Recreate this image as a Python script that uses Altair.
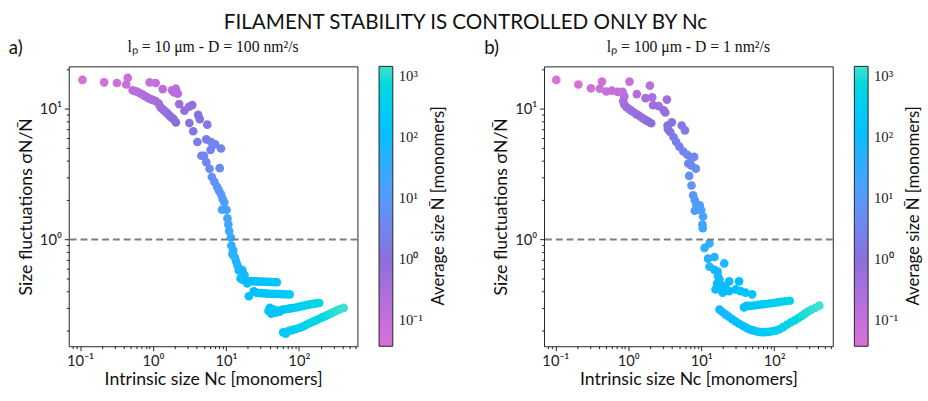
import altair as alt
import pandas as pd

# ---------------- data ----------------
# panel a: l_p = 10 um, D = 100 nm^2/s
nc_a = [0.108, 0.214, 0.321, 0.451, 0.429, 0.90, 1.09, 1.36, 1.82, 2.06, 2.19, 1.95,
        0.526, 0.57, 0.615, 0.665, 0.718, 0.76, 0.813, 0.87, 0.931, 1.01, 1.09, 1.20, 1.27, 1.34,
        1.41, 1.48, 1.56, 1.65, 1.73, 1.82, 1.92, 2.06,
        2.29, 2.70, 3.12, 3.45, 3.15, 4.16, 4.38, 5.55, 3.56, 4.07, 5.38, 6.28, 7.11, 8.57, 6.17,
        4.61, 5.01, 5.38, 5.97, 8.23, 6.42, 6.97, 7.57, 8.0, 8.57, 9.0, 9.5, 10.2, 8.83, 10.5, 10.8,
        11.1, 11.7, 11.9, 12.6, 13.2, 13.8, 14.4, 16.8, 18.0, 15.9, 12.3, 15.0, 19.6, 20.6, 24.1, 17.0,
        21.7, 24, 26.5, 29, 32, 35, 38.5, 42, 46, 50,
        26.7, 30, 33.5, 37.5, 42, 47, 53, 59, 66, 75,
        38.4, 40, 42, 45, 48, 52, 55, 60, 66, 73, 80, 88, 97, 107, 118, 130, 143, 158, 173, 190,
        61, 66, 70, 75, 83, 92, 102, 113, 125, 139, 155, 172, 190, 212, 235, 259, 285, 310, 336, 372, 412]
sig_a = [16.7, 16.0, 15.8, 17.3, 15.4, 16.0, 15.8, 14.2, 13.9, 14.3, 13.1, 13.4,
         13.9, 13.7, 13.5, 13.2, 12.9, 12.6, 12.4, 12.1, 11.9, 11.7, 11.5, 11.0, 10.3, 10.0,
         9.8, 9.55, 9.3, 9.0, 8.75, 8.55, 8.36, 7.89,
         10.9, 9.7, 10.4, 10.7, 7.8, 9.0, 8.36, 7.58, 6.75, 5.58, 5.85, 5.58, 5.36, 4.98, 4.86,
         4.38, 4.38, 3.91, 3.48, 3.52, 3.01, 2.76, 2.53, 2.38, 2.22, 2.05, 1.93, 1.69, 1.69, 1.45, 1.30,
         1.16, 1.035, 0.897, 0.822, 0.732, 0.68, 0.634, 0.582, 0.533, 0.503, 0.77, 0.58, 0.461, 0.367, 0.40, 0.49,
         0.48, 0.478, 0.477, 0.476, 0.475, 0.474, 0.473, 0.472, 0.471, 0.47,
         0.39, 0.388, 0.386, 0.385, 0.384, 0.383, 0.382, 0.381, 0.38, 0.38,
         0.283, 0.300, 0.270, 0.290, 0.275, 0.285, 0.280, 0.290, 0.292, 0.295, 0.298, 0.300, 0.303, 0.307,
         0.311, 0.315, 0.318, 0.321, 0.324, 0.326,
         0.194, 0.190, 0.197, 0.200, 0.203, 0.206, 0.210, 0.215, 0.221, 0.228, 0.234, 0.240, 0.247, 0.254,
         0.260, 0.267, 0.274, 0.280, 0.287, 0.293, 0.299]
nbar_a = [0.04, 0.06, 0.07, 0.07, 0.09, 0.09, 0.10, 0.15, 0.15, 0.14, 0.2, 0.16,
          0.12, 0.13, 0.15, 0.17, 0.19, 0.21, 0.23, 0.26, 0.29, 0.32, 0.36, 0.42, 0.48, 0.52,
          0.57, 0.62, 0.68, 0.74, 0.8, 0.86, 0.92, 1.0,
          0.5, 0.7, 0.7, 0.7, 1.2, 1.1, 1.2, 1.5, 1.6, 2.2, 2.2, 2.5, 2.8, 3.2, 3.0,
          3.0, 3.2, 3.8, 4.5, 5, 6, 7, 8, 9, 10, 12, 13, 16, 14, 20, 24,
          28, 33, 40, 45, 52, 58, 64, 72, 80, 85, 48, 70, 95, 110, 115, 88,
          110, 120, 130, 140, 150, 160, 170, 180, 190, 200,
          130, 140, 150, 165, 180, 195, 210, 225, 245, 270,
          150, 150, 160, 165, 175, 185, 190, 200, 220, 240, 260, 290, 320, 350, 390, 430, 480, 530, 590, 650,
          200, 220, 235, 250, 280, 310, 345, 385, 425, 470, 525, 585, 650, 720, 800, 880, 970, 1050, 1140, 1270, 1400]

# panel b: l_p = 100 um, D = 1 nm^2/s
nc_b = [0.103, 0.207, 0.308, 0.436, 0.407, 0.50, 0.596, 0.717, 0.838, 0.883, 1.04, 1.31, 1.98, 1.73,
        2.13, 2.19, 2.62, 3.06, 3.39, 3.22,
        0.85, 0.883, 0.95, 1.03, 1.1, 1.2, 1.3, 1.41, 1.52, 1.64, 1.75, 1.86, 2.06,
        3.46, 3.96, 5.4, 5.99, 3.76, 3.5, 4.17, 4.53, 5.02, 5.69, 6.44, 7.36, 8.0, 8.43, 6.64, 7.3,
        6.85, 7.36, 7.75, 8.17, 8.59, 9.54, 10.0, 8.17, 10.6, 10.4, 10.5,
        13.0, 11.1, 12.4, 15.2, 20.7, 13.0, 15.2, 16.8, 17.8, 15.7, 18.7, 24.2, 33.0, 19.7, 24.2, 29.7,
        34.7, 40.5, 49.9, 16.5, 19, 21.5, 17,
        38.6, 42, 47, 53, 60, 68, 77, 87, 98, 111, 125, 142, 164,
        17.8, 19.5, 21.5, 23.8, 26.5, 29.7, 33, 37, 41.5, 45.5, 49.9, 55, 61, 68, 75.4,
        84, 94, 105, 118, 133, 150, 170, 191, 215, 240, 265, 290, 325, 370, 416]
sig_b = [16.7, 15.4, 14.4, 16.2, 14.3, 13.6, 13.8, 13.5, 13.5, 12.5, 16.2, 13.0, 15.1, 12.1,
         12.3, 10.7, 10.5, 9.78, 11.8, 9.4,
         11.5, 10.8, 10.3, 9.95, 9.7, 9.4, 9.1, 8.87, 8.6, 8.38, 8.2, 8.04, 7.77,
         7.47, 7.9, 7.47, 6.85, 6.66, 7.0, 6.1, 5.61, 5.14, 4.72, 4.46, 4.21, 4.29, 3.49, 3.82, 3.7,
         3.07, 2.59, 2.18, 2.0, 1.83, 1.83, 1.68, 1.66, 1.5, 1.3, 1.22,
         0.933, 0.861, 0.713, 0.734, 0.655, 0.618, 0.584, 0.567, 0.492, 0.414, 0.426, 0.478, 0.478, 0.391,
         0.402, 0.414, 0.402, 0.391, 0.38, 0.46, 0.445, 0.43, 0.52,
         0.302, 0.31, 0.31, 0.312, 0.315, 0.318, 0.32, 0.323, 0.326, 0.33, 0.333, 0.336, 0.339,
         0.29, 0.278, 0.267, 0.256, 0.245, 0.235, 0.226, 0.218, 0.211, 0.205, 0.202, 0.199, 0.196, 0.195, 0.195,
         0.196, 0.198, 0.2, 0.205, 0.213, 0.222, 0.232, 0.24, 0.25, 0.26, 0.27, 0.28, 0.29, 0.30, 0.311]
nbar_b = [0.04, 0.05, 0.06, 0.06, 0.08, 0.09, 0.1, 0.12, 0.13, 0.16, 0.08, 0.2, 0.15, 0.3,
          0.3, 0.45, 0.5, 0.65, 0.4, 0.7,
          0.3, 0.35, 0.4, 0.45, 0.5, 0.55, 0.6, 0.66, 0.72, 0.8, 0.86, 0.92, 1.0,
          1.3, 1.2, 1.5, 1.8, 1.5, 1.4, 1.8, 2.1, 2.5, 2.9, 3.2, 3.6, 3.5, 4.8, 4.0, 4.3,
          5.5, 7, 9, 10, 12, 13, 15, 13, 18, 22, 24,
          35, 38, 48, 48, 60, 60, 65, 70, 85, 95, 95, 100, 120, 110, 115, 125,
          140, 155, 180, 90, 95, 100, 80,
          140, 150, 165, 180, 200, 225, 250, 280, 320, 360, 410, 470, 540,
          70, 78, 85, 92, 100, 110, 120, 130, 145, 155, 170, 185, 205, 230, 255,
          285, 320, 355, 400, 450, 510, 580, 660, 750, 850, 940, 1020, 1120, 1260, 1400]

x_ticks = [0.08, 0.09, 0.1, 0.2, 0.3, 0.4, 0.5, 0.6, 0.7, 0.8, 0.9, 1, 2, 3, 4, 5, 6, 7, 8, 9,
           10, 20, 30, 40, 50, 60, 70, 80, 90, 100, 200, 300, 400, 500, 600]
y_ticks = [0.2, 0.3, 0.4, 0.5, 0.6, 0.7, 0.8, 0.9, 1, 2, 3, 4, 5, 6, 7, 8, 9, 10, 20]
cbar_ticks = [0.1, 1, 10, 100, 1000]
ref_line = [1.0]

subtitles = ["lₚ = 10 μm - D = 100 nm²/s", "lₚ = 100 μm - D = 1 nm²/s"]
letters = ["a)", "b)"]
cbar_title = ["Average size N̄ [monomers]"]

SANS = "Lato"
SERIF = "Liberation Serif"
E = "round(log(datum.value)/LN10)"
IS_DEC = f"abs(log(datum.value)/LN10 - {E}) < 0.001"
SUP = (f"({E} == -1 ? '⁻¹' : {E} == 0 ? '⁰' : {E} == 1 ? '¹' : "
       f"{E} == 2 ? '²' : '³')")
LABEL = f"{IS_DEC} ? '10' + {SUP} : ''"
TICKSIZE = {"condition": {"test": IS_DEC, "value": 4.5}, "value": 2.5}


def panel(nc, sig, nbar, subtitle, letter):
    df = pd.DataFrame({"nc": nc, "sig": sig, "nbar": nbar})
    x = alt.X("nc:Q", scale=alt.Scale(type="log", domain=[0.07, 636], nice=False),
              axis=alt.Axis(values=x_ticks, labelExpr=LABEL, tickSize=TICKSIZE,
                            labelOverlap=False, labelFlush=False, grid=False,
                            title="Intrinsic size Nc [monomers]", titlePadding=2))
    y = alt.Y("sig:Q", scale=alt.Scale(type="log", domain=[0.152, 21.2], nice=False),
              axis=alt.Axis(values=y_ticks, labelExpr=LABEL, tickSize=TICKSIZE,
                            labelOverlap=False, labelFlush=False, grid=False,
                            title="Size fluctuations σN/N̄"))
    color = alt.Color(
        "nbar:Q",
        scale=alt.Scale(type="log", domain=[0.037, 1, 120, 1450],
                        range=["#da70d6", "#8a6fdc", "#00bfff", "#40e0d0"]),
        legend=alt.Legend(title=None, values=cbar_ticks,
                          labelExpr=LABEL, gradientLength=285, gradientThickness=14,
                          gradientStrokeColor="#222", gradientStrokeWidth=1,
                          labelFont=SERIF, labelFontSize=15, labelColor="#222",
                          offset=22, labelOffset=6))
    pts = alt.Chart(df).mark_circle(size=78, opacity=1).encode(x=x, y=y, color=color)
    rule = alt.Chart(pd.DataFrame({"sig": ref_line})).mark_rule(
        color="#708090", strokeWidth=2, strokeDash=[7, 4]).encode(y="sig:Q")
    lab = alt.Chart(pd.DataFrame({"t": [letter]})).mark_text(
        font=SANS, fontSize=19, align="left", baseline="middle", color="#111"
    ).encode(text="t:N", x=alt.value(-61), y=alt.value(-19))
    sub = alt.Chart(pd.DataFrame({"t": [subtitle]})).mark_text(
        font=SERIF, fontSize=16, align="center", baseline="middle", color="#111"
    ).encode(text="t:N", x=alt.value(147), y=alt.value(-20))
    ctitle = alt.Chart(pd.DataFrame({"t": cbar_title})).mark_text(
        font=SANS, fontSize=17, align="center", baseline="middle", angle=270, color="#111"
    ).encode(text="t:N", x=alt.value(377), y=alt.value(142))
    return alt.layer(pts, rule, lab, sub, ctitle).properties(width=294, height=285)


pa = panel(nc_a, sig_a, nbar_a, subtitles[0], letters[0])
pb = panel(nc_b, sig_b, nbar_b, subtitles[1], letters[1])

chart = alt.hconcat(pa, pb, spacing=36).resolve_scale(color="independent").properties(
    title=alt.TitleParams(text="FILAMENT STABILITY IS CONTROLLED ONLY BY Nc",
                          font=SANS, fontSize=21, fontWeight="normal", color="#111",
                          anchor="middle", offset=6),
    padding={"left": 8, "top": 8, "right": 5, "bottom": 0},
).configure_view(stroke="#222", strokeWidth=1).configure_axis(
    domain=False, labelFont=SANS, labelFontSize=15, labelColor="#222",
    titleFont=SANS, titleFontSize=18, titleFontWeight="normal", titleColor="#111",
    tickColor="#222", labelPadding=3)

chart.save("out.html", embed_options={"renderer": "svg", "actions": False})
